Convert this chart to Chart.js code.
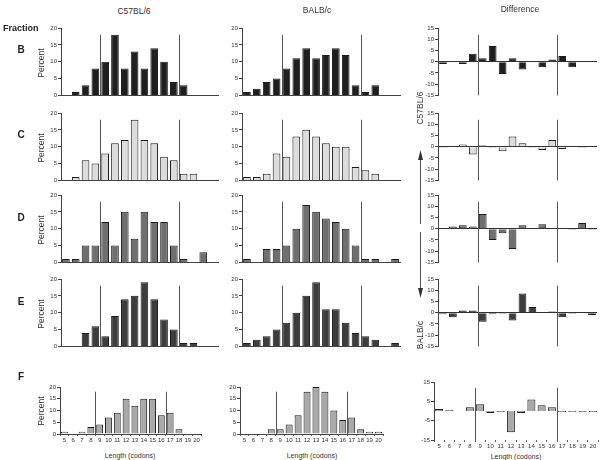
<!DOCTYPE html>
<html><head><meta charset="utf-8">
<script src="https://cdn.jsdelivr.net/npm/chart.js@4"></script>
<style>
body{margin:0;width:600px;height:460px;background:#fff;position:relative;overflow:hidden;font-family:"Liberation Sans",Arial,sans-serif;color:#333}
.t{position:absolute;white-space:nowrap;line-height:1}
.rot{transform:translate(-50%,-50%) rotate(-90deg);transform-origin:center}
canvas{position:absolute}
</style></head><body>
<script>
// ---- data ----
const lengths = ['5','6','7','8','9','10','11','12','13','14','15','16','17','18','19','20'];
const fractions = ['B','C','D','E','F'];
const strains = ['C57BL/6','BALB/c','Difference'];
const c57bl6B = [0,1,3,8,10,18,8,13,8,14,10,4,3,0,0,0];
const balbcB  = [1,2,4,5,8,11,14,11,12,14,12,3,1,3,0,0];
const diffB   = [-1,0,-1,3.5,1.5,7,-5.5,1.5,-3.5,0,-2.5,1,2.5,-2.5,0,0];
const c57bl6C = [0,1,6,5,8,11,12,18,12,11,7,6,2,2,0,0];
const balbcC  = [1,1,2,8,7,13,15,13,11,10,10,4,3,2,0,0];
const diffC   = [-0.5,0,1,-3.5,0.5,-0.5,-2,4.5,1.5,-0.5,-1.5,3,-1,0,-0.5,0];
const c57bl6D = [1,1,5,5,12,5,15,7,15,12,12,5,1,0,3,0];
const balbcD  = [1,0,4,4,5,10,17,15,13,12,10,5,1,1,0,1];
const diffD   = [0,1,1.5,1,6.5,-5,-2,-9,1.5,0,2,0.3,0.3,-0.5,2.5,-0.5];
const c57bl6E = [0,0,4,6,3,9,14,15,19,14,8,5,1,1,0,0];
const balbcE  = [1,2,3,5,7,10,15,19,11,11,7,4,3,2,0,1];
const diffE   = [-0.7,-2,1,1,-4,-0.7,-0.5,-3.5,8.5,2.5,0,0.5,-2,-0.5,0,-1];
const c57bl6F = [1,0,1,3,4,7,9,15,12,15,15,8,9,2,0,0];
const balbcF  = [0,0,0,2,2,4,8,18,20,18,10,6,7,2,1,1];
const diffF   = [1,0.5,0,2,3.5,-1,-0.5,-11,-1,6,3,2,-0.5,-0.5,-0.5,-0.5];
const percentTicks = [0,5,10,15,20];
const diffTicks = [-15,-10,-5,0,5,10,15];
const dividerAfter = ['8','16'];

// ---- layout / style ----
const fills = ['#1f1f1f','#dcdcdc','#6f6f6f','#3d3d3d','#a9a9a9'];
const rowsY = [{t:28,b:97},{t:113,b:182},{t:195,b:264},{t:279,b:348}];
const lastRowY = [{t:387,b:434},{t:387,b:434},{t:382,b:440}];
const colsX = [[61,218],[242,400],[438,597]];
const colsXLast = [[60,201],[240,383],[434,598]];
const series = [
  [c57bl6B,balbcB,diffB],[c57bl6C,balbcC,diffC],[c57bl6D,balbcD,diffD],
  [c57bl6E,balbcE,diffE],[c57bl6F,balbcF,diffF]];

const dividers = {id:'dividers', afterDatasetsDraw(chart,args,o){
  const {ctx, scales:{x,y}} = chart;
  ctx.save(); ctx.strokeStyle='#555'; ctx.lineWidth=1;
  dividerAfter.forEach(lab=>{
    const i = lengths.indexOf(lab);
    const px = Math.round((x.getPixelForValue(i)+x.getPixelForValue(i+1))/2)+0.5;
    ctx.beginPath(); ctx.moveTo(px,y.getPixelForValue(o.top)); ctx.lineTo(px,y.getPixelForValue(o.bottom)); ctx.stroke();
  });
  ctx.restore();
}};

function text(str,x,y,css,cls){
  const d=document.createElement('div'); d.className='t '+(cls||''); d.textContent=str;
  d.style.cssText+=css; d.style.left=x+'px'; d.style.top=y+'px'; document.body.appendChild(d); return d;
}

function panel(col,row){
  const isDiff = col===2, last = row===4;
  const padL=24, padR=7, padT=6, padB= last?(isDiff?11:12):3;
  const [L,R] = last ? colsXLast[col] : colsX[col];
  const geo = last ? lastRowY[col] : rowsY[row];
  const T=geo.t, B=geo.b;
  const w=R-L+padL+padR, h=B-T+padT+padB;
  const cv=document.createElement('canvas');
  cv.width=w; cv.height=h; cv.style.left=(L-padL)+'px'; cv.style.top=(T-padT)+'px';
  document.body.appendChild(cv);
  const ticks = isDiff?diffTicks:percentTicks;
  new Chart(cv,{type:'bar',
    data:{labels:lengths,datasets:[{data:series[row][col],backgroundColor:fills[row],borderColor:'#1a1a1a',
      borderWidth:1,barPercentage:0.78,categoryPercentage:1}]},
    options:{responsive:false,animation:false,devicePixelRatio:1,
      layout:{padding:{top:padT,right:padR,left:0,bottom:0}},
      plugins:{legend:{display:false},tooltip:{enabled:false},
        dividers:isDiff?{top:12,bottom:-15}:{top:18,bottom:0}},
      scales:{
        x:{type:'category',offset:true,
          border:{display:!isDiff,color:'#444',width:1},
          grid:{display:true,drawOnChartArea:false,drawTicks:last,tickLength:2,color:'#666'},
          ticks:{display:last,autoSkip:false,maxRotation:0,padding:1,font:{size:6,family:'Liberation Sans'},color:'#333'},
          afterFit:s=>{s.height=padB;}},
        y:{min:ticks[0],max:ticks[ticks.length-1],
          afterBuildTicks:s=>{s.ticks=ticks.map(v=>({value:v}));},
          border:{display:true,color:'#444',width:1},
          grid:{drawOnChartArea:isDiff,tickLength:3,tickColor:'#444',
            color:c=>(isDiff&&c.tick&&c.tick.value===0)?'#333':'rgba(0,0,0,0)'},
          ticks:{padding:1,font:{size:6,family:'Liberation Sans'},color:'#333'},
          afterFit:s=>{s.width=padL;}}
      }},
    plugins:[dividers]});
}
for(let r=0;r<5;r++) for(let c=0;c<3;c++) panel(c,r);

// ---- text ----
text(strains[0],134,11,'font-size:8.5px;transform:translate(-50%,-50%)');
text(strains[1],317,10,'font-size:8.5px;transform:translate(-50%,-50%)');
text(strains[2],520,9,'font-size:8.5px;transform:translate(-50%,-50%)');
text('Fraction',3,24,'font-size:9px;font-weight:bold;color:#222');
const letterY=[50,135,218,302,377];
fractions.forEach((f,i)=>text(f,21,letterY[i],'font-size:10px;font-weight:bold;color:#222;transform:translate(-50%,-50%)'));
[...rowsY,lastRowY[0]].forEach(r=>text('Percent',41,(r.t+r.b)/2,'font-size:8.5px','rot'));
text('Length (codons)',130,455,'font-size:7px;transform:translate(-50%,-50%)');
text('Length (codons)',312,455,'font-size:7px;transform:translate(-50%,-50%)');
text('Length (codons)',516,456,'font-size:7px;transform:translate(-50%,-50%)');
text('C57BL/6',420,108,'font-size:8.5px','rot');
text('BALB/c',420,335,'font-size:8.5px','rot');
</script>
<svg style="position:absolute;left:0;top:0" width="600" height="460">
  <line x1="420.5" y1="224" x2="420.5" y2="156" stroke="#555" stroke-width="1"/>
  <polygon points="418,160 423,160 420.5,150" fill="#333"/>
  <line x1="420.5" y1="232" x2="420.5" y2="292" stroke="#555" stroke-width="1"/>
  <polygon points="418,288 423,288 420.5,298" fill="#333"/>
</svg>
</body></html>
